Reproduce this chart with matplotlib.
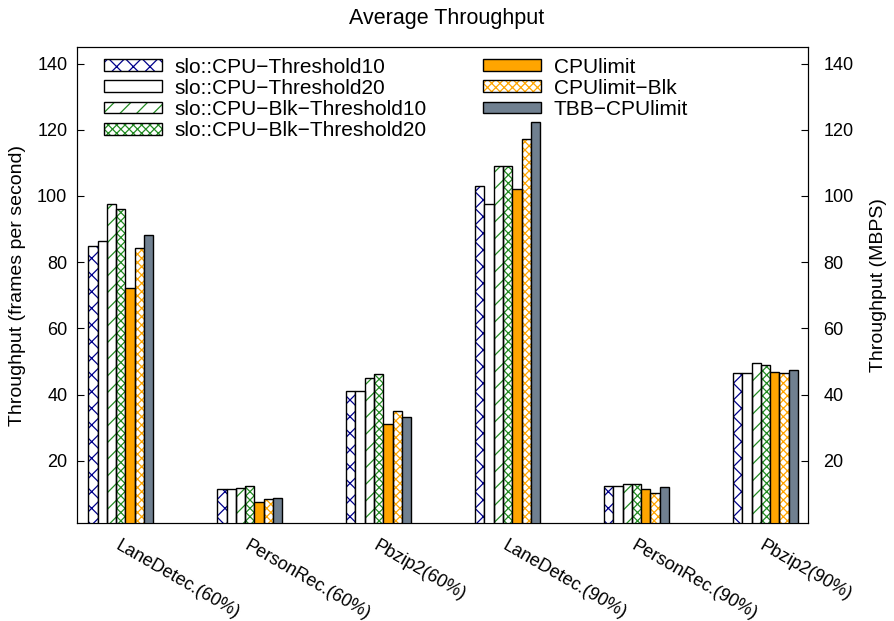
import numpy as np
import matplotlib.pyplot as plt

plt.rcParams['font.family'] = ['Liberation Sans', 'DejaVu Sans']
plt.rcParams['hatch.linewidth'] = 0.9

# Gruppen (x-Achse)
groups = ["LaneDetec.(60%)", "PersonRec.(60%)", "Pbzip2(60%)",
          "LaneDetec.(90%)", "PersonRec.(90%)", "Pbzip2(90%)"]

series_names = [
    "slo::CPU\u2212Threshold10",
    "slo::CPU\u2212Threshold20",
    "slo::CPU\u2212Blk\u2212Threshold10",
    "slo::CPU\u2212Blk\u2212Threshold20",
    "CPUlimit",
    "CPUlimit\u2212Blk",
    "TBB\u2212CPUlimit",
]

# Werte pro Serie
thr10 = [84.8, 11.4, 41.2, 103.0, 12.4, 46.4]
thr20 = [86.4, 11.6, 41.2, 97.6, 12.4, 46.5]
blk_thr10 = [97.6, 11.8, 44.9, 109.1, 13.1, 49.6]
blk_thr20 = [96.2, 12.4, 46.3, 109.1, 12.9, 49.0]
cpulimit = [72.3, 7.6, 31.1, 102.1, 11.4, 46.8]
cpulimit_blk = [84.3, 8.4, 34.9, 117.3, 10.4, 46.5]
tbb_cpulimit = [88.2, 8.8, 33.1, 122.3, 12.1, 47.5]

values = [thr10, thr20, blk_thr10, blk_thr20, cpulimit, cpulimit_blk, tbb_cpulimit]

# Stil je Serie: (Füllfarbe, Hatch, Hatch-Farbe)
styles = [
    ("white", "xx", "#00008b"),
    ("white", "", None),
    ("white", "//", "#228b22"),
    ("white", "xxxx", "#228b22"),
    ("#ffa500", "", None),
    ("white", "xxxx", "#ffa500"),
    ("#708090", "", None),
]

fig = plt.figure(figsize=(8.94, 6.21), dpi=100)
ax = fig.add_axes([0.0861, 0.1578, 0.8177, 0.7665])

x = np.arange(len(groups))
width = 0.072
n = len(values)

handles = []
for i, (vals, (fc, hatch, hc)) in enumerate(zip(values, styles)):
    pos = x + (i - (n - 1) / 2) * width
    if hatch:
        ax.bar(pos, vals, width, color=fc, hatch=hatch,
               edgecolor=hc, linewidth=0, zorder=2)
    ax.bar(pos, vals, width, color=fc if not hatch else "none",
           edgecolor="black", linewidth=1.0, zorder=3)
    # Legenden-Patch: Hatch + schwarzer Rand übereinander
    border = plt.Rectangle((0, 0), 1, 1, facecolor="none",
                           edgecolor="black", linewidth=1.0)
    if hatch:
        fill = plt.Rectangle((0, 0), 1, 1, facecolor=fc, hatch=hatch,
                             edgecolor=hc, linewidth=0)
    else:
        fill = plt.Rectangle((0, 0), 1, 1, facecolor=fc, linewidth=0)
    handles.append((fill, border))

ax.set_xlim(-0.34, 5.33)
ax.set_ylim(1.2, 145)

ax.set_yticks([20, 40, 60, 80, 100, 120, 140])
ax.tick_params(axis="y", direction="in", length=5, labelsize=13, pad=7)
ax.set_xticks(x)
ax.set_xticklabels(groups, rotation=-30, ha="left", rotation_mode="anchor",
                   fontsize=13)
ax.tick_params(axis="x", length=0, pad=10)

ax2 = ax.twinx()
ax2.set_ylim(ax.get_ylim())
ax2.set_yticks([20, 40, 60, 80, 100, 120, 140])
ax2.tick_params(axis="y", direction="in", length=5, labelsize=13, pad=11)

ax.set_ylabel("Throughput (frames per second)", fontsize=14, labelpad=8)
ax2.set_ylabel("Throughput (MBPS)", fontsize=14, labelpad=12)
fig.text(0.5, 0.971, "Average Throughput", fontsize=15.5,
         ha="center", va="center")

leg = ax.legend(handles, series_names, ncol=2, frameon=False, fontsize=15,
                loc="upper left", bbox_to_anchor=(0.025, 0.995),
                handlelength=2.8, handleheight=0.5, labelspacing=0.1,
                columnspacing=2.7, handletextpad=0.6, borderaxespad=0)

fig.savefig("out.png", dpi=100)
